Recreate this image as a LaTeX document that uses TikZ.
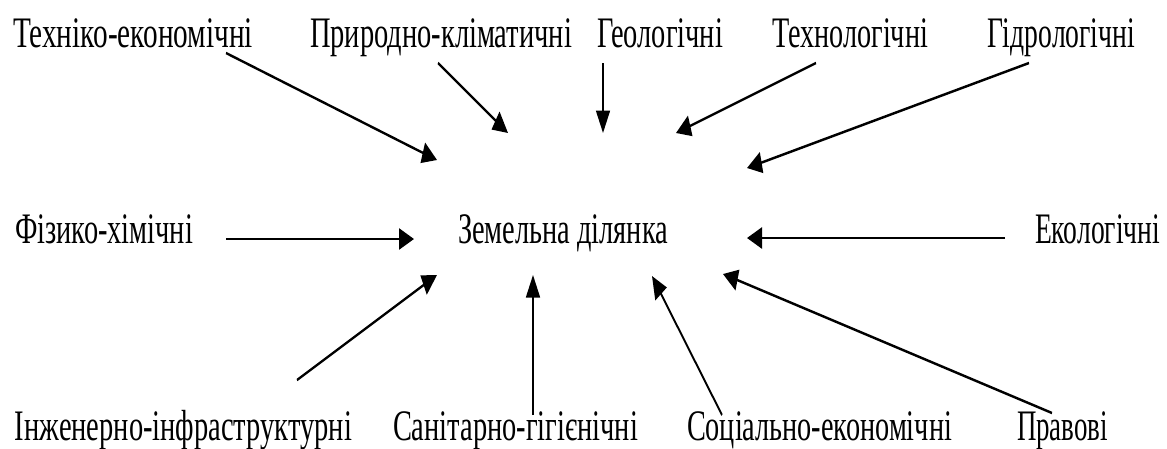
\documentclass[tikz,border=0pt]{standalone}
\usepackage{fontspec}
\setmainfont{Liberation Serif}
\usepackage{graphicx}
\usetikzlibrary{arrows.meta}
\newcommand\fitt[2]{\resizebox{#1pt}{28.5pt}{\rule{0pt}{\fontcharht\font`\T}\smash{#2}}}
\tikzset{
  lbl/.style={anchor=base west, inner sep=0pt, outer sep=0pt, font=\fontsize{40}{40}\selectfont},
  arr/.style={line width=1.7pt, -{Triangle[length=15pt,width=14pt]}}
}
\begin{document}
\begin{tikzpicture}[x=1pt,y=-1pt]
\path[use as bounding box, fill=white] (0,0) rectangle (1167,448);
% labels
\node[lbl] (tech)  at (13,47)   {\fitt{240}{Техніко-економічні}};
\node[lbl] (prir)  at (310,47)  {\fitt{262}{Природно-кліматичні}};
\node[lbl] (geol)  at (597,47)  {\fitt{126}{Геологічні}};
\node[lbl] (tehn)  at (772,47)  {\fitt{156}{Технологічні}};
\node[lbl] (gidr)  at (987,47)  {\fitt{148}{Гідрологічні}};
\node[lbl] (fiz)   at (15,243)  {\fitt{178}{Фізико-хімічні}};
\node[lbl] (zem)   at (458,243) {\fitt{210}{Земельна ділянка}};
\node[lbl] (ekol)  at (1035,243){\fitt{125}{Екологічні}};
\node[lbl] (inzh)  at (15,440)  {\fitt{337}{Інженерно-інфраструктурні}};
\node[lbl] (san)   at (393,440) {\fitt{245}{Санітарно-гігієнічні}};
\node[lbl] (soc)   at (687,440) {\fitt{265}{Соціально-економічні}};
\node[lbl] (prav)  at (1017,440){\fitt{91}{Правові}};
% connectors (drawn in a vertically stretched canvas, as in the reference)
\begin{scope}[y=-0.6666667pt, transform canvas={yscale=1.5}]
\coordinate (tech-o) at (226,53);   \coordinate (tech-i) at (437,160);
\coordinate (prir-o) at (438,63);   \coordinate (prir-i) at (508,133);
\coordinate (geol-o) at (603,63);   \coordinate (geol-i) at (603,133);
\coordinate (tehn-o) at (816,63);   \coordinate (tehn-i) at (676,133);
\coordinate (gidr-o) at (1029,63);  \coordinate (gidr-i) at (747,168);
\coordinate (fiz-o)  at (226,239);  \coordinate (fiz-i)  at (414,239);
\coordinate (ekol-o) at (1005,238); \coordinate (ekol-i) at (747,238);
\coordinate (inzh-o) at (297,380);  \coordinate (inzh-i) at (437,275);
\coordinate (san-o)  at (533,415);  \coordinate (san-i)  at (533,275);
\coordinate (soc-o)  at (722,415);  \coordinate (soc-i)  at (652,276);
\coordinate (prav-o) at (1052,413); \coordinate (prav-i) at (723,274);
\foreach \n in {tech,prir,geol,tehn,gidr,fiz,ekol,inzh,san,soc,prav}
  \draw[arr] (\n-o) -- (\n-i);
\end{scope}
\end{tikzpicture}
\end{document}
